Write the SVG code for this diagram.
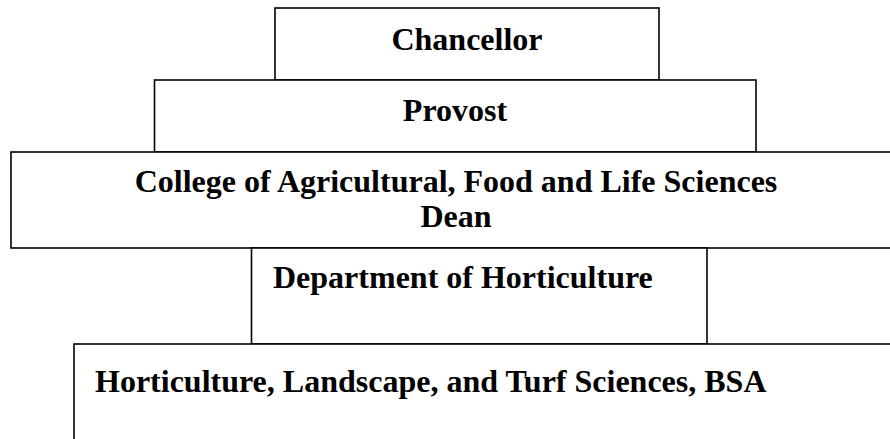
<svg xmlns="http://www.w3.org/2000/svg" width="890" height="439" viewBox="0 0 890 439">
<style>
.box{fill:#ffffff;stroke:#000000;stroke-width:1.6}
.t{font-family:"Liberation Serif","Times New Roman",serif;font-weight:bold;font-size:32px;fill:#000000}
.c{text-anchor:middle}
</style>
<rect x="0" y="0" width="890" height="439" fill="#ffffff"/>
<g id="chancellor">
<rect class="box" x="275" y="8" width="384" height="72"/>
<text class="t c" x="467" y="50">Chancellor</text>
</g>
<g id="provost">
<rect class="box" x="154.5" y="80" width="601.5" height="72"/>
<text class="t c" x="455" y="121">Provost</text>
</g>
<g id="college">
<rect class="box" x="11" y="152" width="900" height="96"/>
<text class="t c" x="456" y="192">College of Agricultural, Food and Life Sciences</text>
<text class="t c" x="456" y="227">Dean</text>
</g>
<g id="department">
<rect class="box" x="251.5" y="248" width="455.5" height="96"/>
<text class="t" x="273" y="288">Department of Horticulture</text>
</g>
<g id="program">
<rect class="box" x="74" y="344" width="830" height="110"/>
<text class="t" x="95" y="392">Horticulture, Landscape, and Turf Sciences, BSA</text>
</g>
</svg>
